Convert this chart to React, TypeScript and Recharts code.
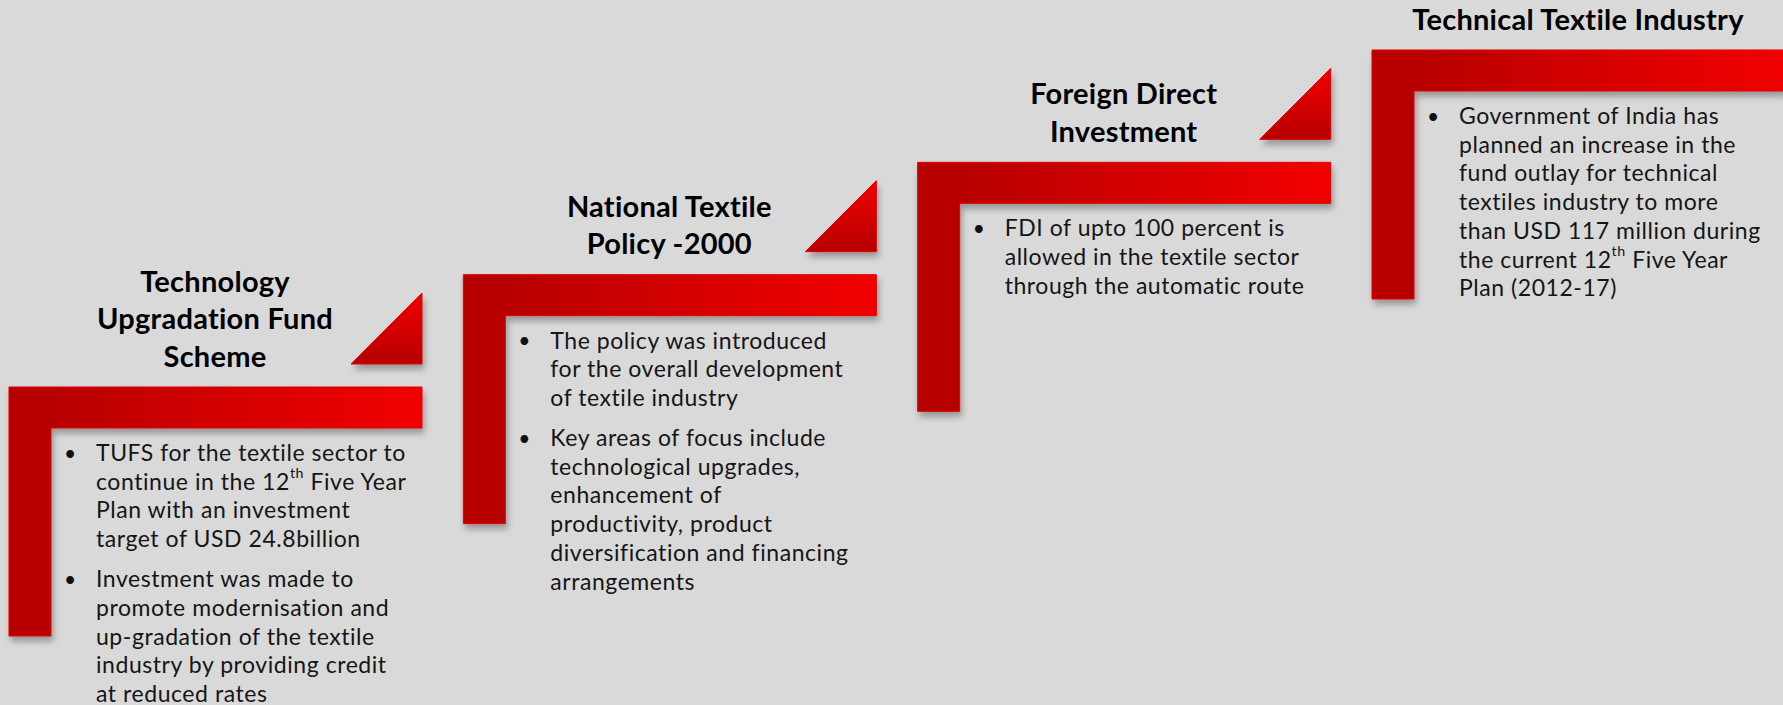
import React from 'react'
import { Scatter, ScatterChart, XAxis, YAxis } from 'recharts'

// step order (x) and height of each step (y)
const stepOrder = [0, 1, 2, 3]
const stepLevel = [0, 1, 2, 3]

const titles = [
  ['Technology', 'Upgradation Fund', 'Scheme'],
  ['National Textile', 'Policy -2000'],
  ['Foreign Direct', 'Investment'],
  ['Technical Textile Industry'],
]

// each step: paragraphs -> lines; "^th" marks a superscript
const bullets = [
  [
    ['TUFS for the textile sector to', 'continue in the 12^th Five Year', 'Plan with an investment', 'target of USD 24.8billion'],
    ['Investment was made to', 'promote modernisation and', 'up-gradation of the textile', 'industry by providing credit', 'at reduced rates'],
  ],
  [
    ['The policy was introduced', 'for the overall development', 'of textile industry'],
    ['Key areas of focus include', 'technological upgrades,', 'enhancement of', 'productivity, product', 'diversification and financing', 'arrangements'],
  ],
  [['FDI of upto 100 percent is', 'allowed in the textile sector', 'through the automatic route']],
  [
    ['Government of India has', 'planned an increase in the', 'fund outlay for technical', 'textiles industry to more', 'than USD 117 million during', 'the current 12^th Five Year', 'Plan (2012-17)'],
  ],
]

const showTriangle = [true, true, true, false]

const data = stepOrder.map((s, i) => ({ step: s, level: stepLevel[i], idx: i }))

const FONT = 'Lato, "Open Sans", sans-serif'
const BAR_LEN = 413
const THICK = 41
const LEG = 249
const TRI = 71
const LINE_H = 28.7
const PARA_GAP = 11.3

function renderLine(text: string) {
  const parts = text.split('^th')
  if (parts.length === 1) return text
  return (
    <>
      {parts[0]}
      <tspan fontSize="0.62em" dy={-9}>th</tspan>
      <tspan dy={9}>{parts[1]}</tspan>
    </>
  )
}

function StepShape(props: any) {
  const { cx, cy, payload } = props
  const i = payload.idx
  const x = cx
  const y = cy
  const right = x + BAR_LEN
  const lPath = `M${x},${y} H${right} V${y + THICK} H${x + 42} V${y + LEG} H${x} Z`
  const triBottom = y - 23
  const triPath = `M${right},${triBottom - TRI} L${right},${triBottom} L${right - TRI},${triBottom} Z`

  const tl = titles[i]
  const titleX = x + 206
  const lastTitleY = y - 32

  let lineY = y + 65
  const bodyEls: React.ReactNode[] = []
  bullets[i].forEach((para, p) => {
    if (p > 0) lineY += PARA_GAP
    bodyEls.push(
      <text key={`b${p}`} x={x + 55} y={lineY} fontSize={21} fill="#111" fontFamily={FONT} dominantBaseline="central">
        •
      </text>
    )
    para.forEach((ln, k) => {
      bodyEls.push(
        <text key={`l${p}-${k}`} x={x + 87} y={lineY} fontSize={23} letterSpacing={0.55} fill="#151515" fontFamily={FONT} dominantBaseline="central">
          {renderLine(ln)}
        </text>
      )
      lineY += LINE_H
    })
  })

  return (
    <g>
      <path d={lPath} fill="url(#barGrad)" stroke="#e00000" strokeWidth={1} filter="url(#shadow)" />
      {showTriangle[i] && (
        <path d={triPath} fill="url(#triGrad)" stroke="#e00000" strokeWidth={1} filter="url(#shadow)" />
      )}
      {tl.map((t, k) => (
        <text
          key={`t${k}`}
          x={titleX}
          y={lastTitleY - (tl.length - 1 - k) * 37.5}
          textAnchor="middle"
          dominantBaseline="central"
          fontSize={29}
          letterSpacing={0.25}
          fontWeight={700}
          fill="#000"
          fontFamily={FONT}
        >
          {t}
        </text>
      ))}
      {bodyEls}
    </g>
  )
}

export default function App() {
  return (
    <div style={{ position: 'absolute', left: 0, top: 0, width: 1783, height: 705, background: '#d9d9d9', overflow: 'hidden' }}>
      <ScatterChart width={1783} height={705} margin={{ top: 50, right: 411, bottom: 318, left: 9 }}>
        <defs>
          <linearGradient id="barGrad" x1="0" y1="0" x2="1" y2="0">
            <stop offset="0%" stopColor="#b80000" />
            <stop offset="12%" stopColor="#b90000" />
            <stop offset="100%" stopColor="#f20000" />
          </linearGradient>
          <linearGradient id="triGrad" x1="0" y1="0" x2="0" y2="1">
            <stop offset="0%" stopColor="#f20000" />
            <stop offset="100%" stopColor="#b60000" />
          </linearGradient>
          <filter id="shadow" x="-10%" y="-10%" width="130%" height="130%">
            <feDropShadow dx={2} dy={5} stdDeviation={3} floodColor="#000" floodOpacity={0.3} />
          </filter>
        </defs>
        <XAxis type="number" dataKey="step" domain={[0, 3]} hide />
        <YAxis type="number" dataKey="level" domain={[0, 3]} hide />
        <Scatter data={data} shape={StepShape} isAnimationActive={false} />
      </ScatterChart>
    </div>
  )
}
